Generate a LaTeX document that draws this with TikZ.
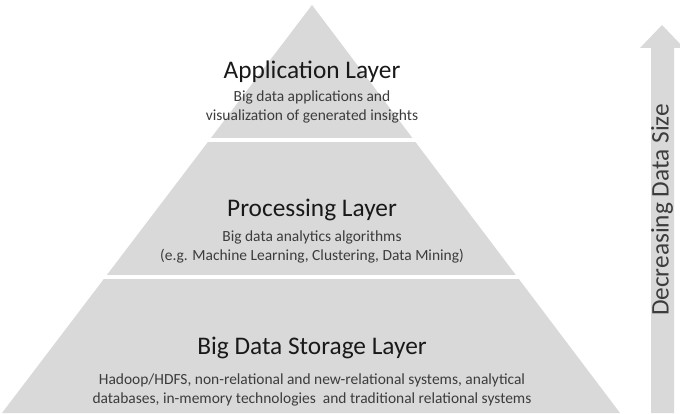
\documentclass[tikz,border=0pt]{standalone}
\usepackage{fontspec}
\setmainfont{Carlito}
\definecolor{layergray}{RGB}{217, 217, 217}
\definecolor{titleblack}{RGB}{25, 25, 25}
\definecolor{notegray}{RGB}{60, 60, 60}
\usetikzlibrary{positioning}

\begin{document}
\begin{tikzpicture}[x=0.75pt, y=-0.75pt,
  layertitle/.style={font=\fontsize{19}{22}\selectfont, text=titleblack, inner sep=0pt},
  layernote/.style={font=\fontsize{11.6}{14.3}\selectfont, text=notegray, align=center, inner sep=0pt}]
  \useasboundingbox (0,0) rectangle (680,413);

  % Pyramid
  \fill[layergray] (312,5) -- (620,413) -- (2,413) -- cycle;
  \draw[white, line width=2.4pt] (190,140) -- (440,140);
  \draw[white, line width=2.4pt] (90,277) -- (540,277);

  % Application layer
  \node[layertitle] (apptitle) at (312,72) {Application Layer};
  \node[layernote] (appnote) at (312,106.5) {Big data applications and\\visualization of generated insights};

  % Processing layer
  \node[layertitle] (proctitle) at (312,210) {Processing Layer};
  \node[layernote] (procnote) at (312,247) {Big data analytics algorithms\\(e.g. Machine Learning, Clustering, Data Mining)};

  % Storage layer
  \node[layertitle] (storetitle) at (312,348) {Big Data Storage Layer};
  \node[layernote] (storenote) at (312,390) {Hadoop/HDFS, non-relational and new-relational systems, analytical\\databases, in-memory technologies\ \ and traditional relational systems};

  % Size arrow
  \fill[layergray] (651,413) -- (651,48) -- (640,48) -- (662,25) -- (684,48) -- (674,48) -- (674,413) -- cycle;
  \node[layertitle, text=notegray, rotate=90] (sizelabel) at (662,210) {Decreasing Data Size};
\end{tikzpicture}
\end{document}
